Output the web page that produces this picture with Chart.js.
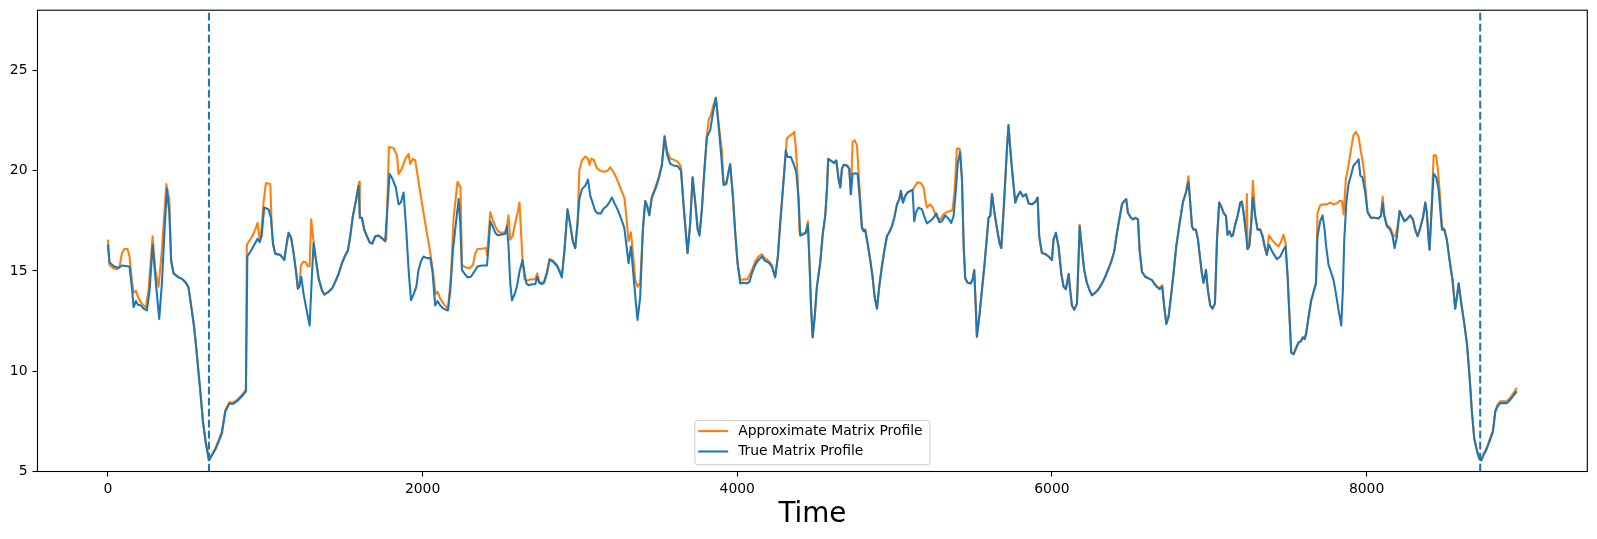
<!DOCTYPE html>
<html>
<head>
<meta charset="utf-8">
<script src="https://cdn.jsdelivr.net/npm/chart.js@4/dist/chart.umd.min.js"></script>
<style>
  body { margin: 0; background: #fff; }
  #wrap { width: 1597px; height: 539px; }
</style>
</head>
<body>
<div id="wrap"><canvas id="mpChart" width="1597" height="539"></canvas></div>
<script>
// values: [time, distance]
const trueProfile = [
  [0,16.31],[10,15.42],[40,15.22],[68,15.15],[89,15.27],[110,15.25],[137,15.22],[152,14.21],[163,13.20],[178,13.50],
  [190,13.32],[210,13.28],[226,13.12],[248,13.03],[265,14.04],[284,16.31],[301,14.71],[326,12.61],[343,14.38],[360,17.06],
  [375,19.08],[390,17.90],[402,15.47],[417,14.88],[449,14.68],[474,14.59],[496,14.41],[512,14.17],[527,13.37],[548,12.19],
  [565,10.85],[587,9.00],[604,7.49],[621,6.48],[642,5.56],[661,5.81],[682,6.09],[703,6.48],[724,6.90],[746,7.99],
  [771,8.38],[798,8.38],[824,8.53],[851,8.75],[877,9.00],[886,15.72],[909,16.01],[930,16.31],[951,16.61],[964,16.43],
  [977,16.73],[993,18.16],[1021,18.07],[1036,17.65],[1049,16.39],[1063,15.85],[1095,15.80],
  [1121,15.55],[1133,16.22],[1148,16.90],[1165,16.64],[1180,15.89],[1197,14.88],[1207,14.12],[1216,14.21],[1229,14.71],
  [1243,13.87],[1265,12.95],[1282,12.28],[1296,14.71],[1307,16.39],[1322,15.55],[1339,14.63],[1360,14.04],[1375,13.82],
  [1402,13.96],[1424,14.12],[1445,14.46],[1466,14.85],[1487,15.38],[1508,15.77],[1525,16.02],[1540,16.73],[1557,17.74],
  [1574,18.41],[1593,19.25],[1601,17.65],[1614,17.65],[1629,17.06],[1646,16.73],[1663,16.43],[1680,16.36],[1699,16.73],
  [1720,16.76],[1741,16.64],[1762,16.48],[1777,18.24],[1790,19.84],[1809,19.58],[1830,19.16],[1847,18.32],[1862,18.41],
  [1879,18.91],[1896,17.06],[1911,15.05],[1926,13.54],[1943,13.84],[1960,14.21],[1974,15.05],[1989,15.47],[2006,15.72],
  [2027,15.64],[2049,15.64],[2063,14.96],[2080,13.28],[2095,13.50],[2112,13.28],[2133,13.12],[2161,13.03],[2176,14.04],
  [2193,16.06],[2212,17.40],[2229,18.58],[2239,17.40],[2250,15.05],
  [2265,14.88],[2286,14.68],[2307,14.71],[2328,14.96],[2349,15.22],[2377,15.27],[2409,15.27],[2419,16.22],[2430,17.48],
  [2445,17.23],[2462,16.90],[2477,16.78],[2498,16.81],[2525,16.85],[2536,17.23],[2546,16.22],[2557,14.38],[2568,13.54],
  [2585,13.84],[2599,14.21],[2616,14.96],[2635,15.55],[2648,14.88],[2659,14.38],[2674,14.29],[2695,14.34],[2716,14.34],
  [2729,14.71],[2741,14.41],[2758,14.34],[2773,14.43],[2790,14.88],[2807,15.55],[2828,15.47],[2854,15.25],[2871,14.96],
  [2885,14.68],[2902,16.06],[2921,18.07],[2938,17.32],[2955,16.48],[2970,16.14],[2985,17.40],[2996,18.58],[3013,19.08],
  [3034,19.25],[3051,19.55],[3066,18.74],[3080,18.41],[3097,17.99],[3114,17.87],[3133,17.87],[3150,18.11],[3171,18.24],
  [3186,18.41],[3203,18.66],[3220,18.37],[3239,18.07],[3260,17.65],[3282,17.15],[3294,16.39],[3309,15.38],[3324,16.22],
  [3341,14.71],[3356,13.37],[3366,12.56],[3383,13.70],
  [3400,17.06],[3415,18.49],[3426,18.24],[3441,17.77],[3457,18.66],[3479,19.08],[3500,19.58],[3521,20.26],[3538,21.68],
  [3553,20.84],[3574,20.34],[3595,20.26],[3621,20.22],[3642,20.00],[3659,18.24],[3684,15.89],[3701,17.40],[3716,19.67],
  [3733,18.41],[3748,17.06],[3760,16.76],[3775,18.07],[3790,19.92],[3807,21.68],[3828,22.02],[3845,22.86],[3864,23.62],
  [3881,22.27],[3896,20.93],[3913,19.28],[3930,19.33],[3945,19.92],[3955,20.29],[3972,18.74],[3987,16.90],[4002,15.38],
  [4019,14.38],[4040,14.41],[4061,14.38],[4078,14.46],[4093,14.88],[4114,15.30],[4135,15.55],[4157,15.72],[4174,15.52],
  [4199,15.42],[4220,15.22],[4241,14.68],[4258,15.72],[4273,17.40],[4290,19.08],[4309,21.01],[4320,20.68],[4341,20.68],
  [4358,20.34],[4375,19.92],[4390,18.58],[4400,16.76],[4417,16.81],[4436,16.90],[4449,17.32],[4460,15.22],[4468,13.37],
  [4479,11.69],[4492,12.70],[4506,14.21],[4527,15.40],
  [4544,16.90],[4559,17.74],[4570,19.08],[4578,20.59],[4602,20.46],[4616,20.39],[4629,20.51],[4644,19.58],[4655,19.16],
  [4665,20.09],[4676,20.29],[4697,20.26],[4712,20.09],[4722,18.83],[4733,19.84],[4750,19.87],[4765,19.84],[4777,18.74],
  [4792,17.15],[4803,16.98],[4813,17.06],[4828,16.39],[4845,15.55],[4860,14.71],[4873,13.70],[4888,13.12],[4902,14.21],
  [4919,15.22],[4936,16.06],[4951,16.73],[4966,16.93],[4983,17.23],[4998,17.65],[5015,18.32],[5030,18.58],[5040,18.99],
  [5053,18.41],[5068,18.74],[5082,18.91],[5099,18.99],[5114,19.03],[5125,17.48],[5135,17.90],[5152,18.16],[5174,18.07],
  [5188,17.74],[5205,17.37],[5226,17.48],[5248,17.65],[5265,17.87],[5284,17.43],[5301,17.48],[5322,17.77],[5343,17.60],
  [5360,17.40],[5375,17.74],[5390,19.08],[5402,20.42],[5417,20.93],[5428,19.58],[5439,16.22],[5449,14.63],[5464,14.41],
  [5485,14.38],[5498,14.63],[5506,15.05],[5515,13.37],[5523,11.72],[5538,12.70],[5555,14.04],[5572,15.38],[5587,16.73],
  [5597,17.65],[5608,17.74],[5619,18.83],[5633,17.99],[5650,17.15],[5667,16.39],[5678,16.14],
  [5697,18.58],[5714,21.10],[5724,22.27],[5735,21.10],[5750,19.75],[5767,18.41],[5782,18.74],[5799,18.95],[5816,18.71],
  [5835,18.83],[5852,18.36],[5873,18.32],[5894,18.44],[5909,18.66],[5919,16.73],[5936,15.89],[5958,15.84],[5979,15.72],
  [6000,15.55],[6010,16.56],[6025,16.90],[6042,16.22],[6059,14.88],[6074,14.21],[6089,14.09],[6106,14.85],[6116,14.04],
  [6127,13.28],[6142,13.07],[6159,13.37],[6169,15.55],[6176,17.23],[6191,16.06],[6205,15.05],[6222,14.41],[6239,14.04],
  [6254,13.79],[6275,13.91],[6296,14.09],[6318,14.38],[6339,14.71],[6360,15.13],[6377,15.47],[6396,15.97],[6413,16.90],
  [6430,17.65],[6445,18.32],[6460,18.49],[6472,18.58],[6483,17.90],[6502,17.65],[6515,17.57],[6530,17.65],[6547,17.57],
  [6557,16.06],[6572,14.96],[6593,14.71],[6614,14.63],[6636,14.54],[6650,14.38],[6667,14.21],[6684,14.09],[6701,14.21],
  [6714,13.20],[6727,12.36],[6741,12.70],[6756,13.70],[6773,14.88],[6790,16.22],[6809,17.23],
  [6832,18.41],[6852,18.91],[6868,19.42],[6879,18.41],[6890,17.23],[6900,17.06],[6915,17.06],[6928,16.56],[6943,15.55],
  [6953,14.88],[6964,14.41],[6979,15.05],[6991,14.04],[7006,13.28],[7021,13.12],[7036,13.37],[7049,16.56],[7063,18.41],
  [7076,18.21],[7091,17.90],[7106,17.74],[7116,16.81],[7129,16.98],[7140,16.73],[7150,16.76],[7165,17.32],[7180,17.74],
  [7197,18.41],[7207,18.46],[7218,17.90],[7233,16.90],[7243,16.09],[7254,16.22],[7267,17.40],[7277,18.66],[7292,17.74],
  [7307,17.06],[7324,17.06],[7339,16.73],[7352,16.22],[7366,15.80],[7379,16.31],[7394,16.06],[7409,15.85],[7430,15.59],
  [7451,15.72],[7472,16.06],[7485,16.22],[7498,14.71],[7510,12.70],[7521,10.93],[7536,10.85],[7553,11.18],[7568,11.44],
  [7582,11.49],[7595,11.69],[7606,11.60],[7616,11.89],[7631,12.70],[7648,13.54],[7663,13.96],[7678,14.38],[7688,16.73],
  [7705,17.48],[7720,17.77],[7733,17.06],[7743,16.22],[7758,15.30],[7773,14.96],[7790,14.54],[7805,13.87],[7822,13.03],
  [7839,12.28],[7849,14.04],[7858,16.56],[7871,18.41],[7885,19.33],[7900,19.75],[7917,20.26],[7932,20.39],[7949,20.56],
  [7960,19.75],[7974,19.67],
  [7991,18.91],[8006,17.94],[8027,17.65],[8049,17.65],[8076,17.62],[8091,17.74],[8102,18.41],[8112,17.74],[8129,17.23],
  [8150,17.06],[8165,16.73],[8178,16.14],[8193,16.73],[8210,17.99],[8224,17.74],[8241,17.48],[8256,17.57],[8277,17.77],
  [8294,17.57],[8309,17.06],[8324,16.73],[8341,17.15],[8358,17.65],[8373,18.41],[8383,17.90],[8394,16.56],[8400,16.06],
  [8411,17.74],[8426,19.84],[8443,19.67],[8457,19.08],[8468,18.07],[8479,17.06],[8494,17.06],[8510,16.56],[8527,15.55],
  [8546,14.54],[8563,13.12],[8574,13.70],[8585,14.38],[8602,13.37],[8621,12.36],[8638,11.35],[8655,9.67],[8669,7.99],
  [8684,6.65],[8701,6.06],[8716,5.64],[8729,5.56],[8744,5.84],[8760,6.06],[8780,6.48],[8803,6.98],[8818,7.99],
  [8832,8.24],[8849,8.41],[8871,8.41],[8892,8.41],[8913,8.58],[8934,8.80],[8955,9.00]
];

const approxProfile = [
  [0,16.56],[10,15.30],[36,15.13],[57,15.08],[74,15.22],[89,15.89],[104,16.09],[125,16.09],[137,15.72],[152,14.54],
  [163,13.91],[178,14.01],[195,13.62],[216,13.37],[241,13.17],[258,14.04],[284,16.73],[301,15.05],[322,14.21],[343,16.06],
  [371,19.33],[390,18.58],[402,15.55],[417,14.88],[449,14.68],[474,14.59],[496,14.41],[512,14.17],[527,13.37],[548,12.19],
  [565,10.85],[587,9.00],[604,7.49],[621,6.48],[642,5.56],[661,5.85],[682,6.15],[703,6.55],[724,6.98],[746,8.05],
  [771,8.45],[798,8.45],[824,8.60],[851,8.82],[877,9.08],[883,16.31],[915,16.69],[936,17.06],[951,17.40],[964,16.56],
  [974,16.90],[989,18.41],[1004,19.38],[1032,19.33],[1040,17.40],[1049,16.31],[1063,15.89],[1095,15.80],
  [1121,15.55],[1133,16.22],[1148,16.90],[1165,16.64],[1180,15.89],[1197,14.88],[1207,14.12],[1216,14.21],[1227,15.30],
  [1243,15.47],[1258,15.42],[1271,15.22],[1282,15.25],[1292,17.57],[1303,16.73],[1322,15.55],[1339,14.63],[1360,14.04],
  [1375,13.82],[1402,13.96],[1424,14.12],[1445,14.46],[1466,14.85],[1487,15.38],[1508,15.77],[1525,16.02],[1540,16.73],
  [1557,17.74],[1574,18.41],[1597,19.45],[1601,17.65],[1614,17.65],[1629,17.06],[1646,16.73],[1663,16.43],[1680,16.36],
  [1699,16.73],[1720,16.76],[1741,16.64],[1762,16.48],[1769,16.56],[1786,21.18],[1815,21.13],[1837,20.76],[1847,19.84],
  [1868,20.09],[1890,20.59],[1911,20.84],[1921,20.34],[1938,20.59],[1953,20.51],[1968,19.75],[1985,18.91],[2002,18.07],
  [2027,16.90],[2049,15.89],[2070,14.71],[2082,13.84],[2095,13.96],[2112,13.62],[2133,13.37],[2161,13.12],[2180,14.71],
  [2197,17.65],[2222,19.45],[2241,19.16],[2250,15.30],
  [2271,15.18],[2299,15.13],[2320,15.30],[2335,15.89],[2349,16.09],[2377,16.11],[2404,16.14],[2409,15.80],[2419,16.73],
  [2430,17.94],[2445,17.57],[2462,17.23],[2479,16.98],[2498,16.90],[2525,16.93],[2536,17.23],[2546,17.77],[2557,16.56],
  [2572,16.73],[2589,17.40],[2604,17.90],[2616,18.41],[2625,17.06],[2635,15.55],[2648,14.58],[2663,14.51],[2684,14.58],
  [2716,14.59],[2729,14.88],[2741,14.48],[2758,14.40],[2773,14.50],[2790,14.95],[2807,15.60],[2828,15.52],[2854,15.30],
  [2871,15.00],[2885,14.70],[2902,16.06],[2921,18.07],[2938,17.32],[2955,16.48],[2970,16.14],[2985,17.40],[2996,20.00],
  [3013,20.51],[3034,20.71],[3051,20.59],[3061,20.29],[3072,20.59],[3087,20.54],[3108,20.12],[3129,20.00],[3154,19.95],
  [3176,20.00],[3193,20.17],[3214,19.92],[3235,19.58],[3256,19.16],[3282,18.66],[3294,17.82],[3309,16.48],[3324,16.93],
  [3337,15.89],[3352,14.54],[3366,14.21],[3383,14.40],
  [3400,17.06],[3415,18.49],[3426,18.30],[3441,17.85],[3457,18.70],[3479,19.15],[3500,19.65],[3521,20.35],[3538,21.75],
  [3553,21.00],[3574,20.60],[3595,20.55],[3621,20.45],[3642,20.20],[3659,18.24],[3684,15.89],[3701,17.40],[3716,19.67],
  [3733,18.41],[3748,17.20],[3760,16.85],[3775,18.07],[3790,19.92],[3807,21.77],[3818,22.52],[3832,22.78],[3849,23.28],
  [3864,23.65],[3885,22.10],[3902,21.01],[3913,19.42],[3930,19.40],[3945,20.00],[3955,20.35],[3972,18.74],[3987,16.90],
  [4002,15.38],[4019,14.54],[4040,14.58],[4065,14.58],[4093,15.05],[4114,15.47],[4135,15.72],[4157,15.84],[4174,15.64],
  [4199,15.50],[4220,15.30],[4241,14.71],[4258,15.72],[4273,17.40],[4290,19.08],[4315,21.60],[4337,21.77],[4354,21.85],
  [4362,21.94],[4373,21.10],[4383,19.75],[4396,16.90],[4417,16.85],[4436,16.95],[4449,17.48],[4460,15.22],[4468,13.37],
  [4479,11.69],[4492,12.70],[4506,14.21],[4527,15.40],
  [4544,16.90],[4559,17.74],[4570,19.08],[4578,20.59],[4602,20.46],[4616,20.39],[4629,20.51],[4644,19.58],[4655,19.16],
  [4665,20.09],[4676,20.29],[4697,20.26],[4712,20.09],[4722,18.83],[4733,21.43],[4746,21.52],[4761,21.26],[4771,19.92],
  [4782,18.58],[4792,17.23],[4803,17.00],[4813,17.06],[4828,16.39],[4845,15.55],[4860,14.71],[4873,13.70],[4888,13.12],
  [4902,14.21],[4919,15.22],[4936,16.06],[4951,16.73],[4966,16.93],[4983,17.23],[4998,17.65],[5015,18.32],[5030,18.58],
  [5040,18.99],[5053,18.41],[5068,18.74],[5082,18.91],[5099,18.99],[5114,19.03],[5131,19.25],[5146,19.42],[5167,19.38],
  [5184,19.16],[5195,18.58],[5205,18.16],[5226,18.32],[5243,18.16],[5258,17.82],[5273,17.65],[5290,17.57],[5311,17.82],
  [5332,17.94],[5354,17.99],[5368,18.04],[5380,18.90],[5396,21.10],[5413,21.10],[5428,19.58],[5439,16.22],[5449,14.63],
  [5464,14.41],[5485,14.38],[5498,14.63],[5506,15.05],[5515,13.37],[5523,11.72],[5538,12.70],[5555,14.04],[5572,15.38],
  [5587,16.73],[5597,17.65],[5608,17.74],[5619,18.83],[5633,17.99],[5650,17.15],[5667,16.39],[5678,16.14],
  [5697,18.58],[5714,21.10],[5724,22.27],[5735,21.10],[5750,19.75],[5767,18.41],[5782,18.74],[5799,18.95],[5816,18.71],
  [5835,18.83],[5852,18.36],[5873,18.32],[5894,18.44],[5909,18.66],[5919,16.73],[5936,15.89],[5958,15.84],[5979,15.72],
  [6000,15.55],[6010,16.56],[6025,16.90],[6042,16.22],[6059,14.88],[6074,14.21],[6089,14.09],[6106,14.85],[6116,14.04],
  [6127,13.28],[6142,13.07],[6159,13.37],[6169,15.55],[6176,17.30],[6191,16.06],[6205,15.05],[6222,14.41],[6239,14.04],
  [6254,13.79],[6275,13.91],[6296,14.09],[6318,14.38],[6339,14.71],[6360,15.13],[6377,15.47],[6396,15.97],[6413,16.90],
  [6430,17.65],[6445,18.32],[6460,18.49],[6472,18.58],[6483,17.90],[6502,17.65],[6515,17.57],[6530,17.65],[6547,17.57],
  [6557,16.06],[6572,14.96],[6593,14.71],[6614,14.63],[6636,14.54],[6650,14.38],[6667,14.21],[6684,14.15],[6701,14.29],
  [6714,13.20],[6727,12.36],[6741,12.70],[6756,13.70],[6773,14.88],[6790,16.22],[6809,17.23],
  [6832,18.41],[6852,18.95],[6868,19.72],[6879,18.41],[6890,17.23],[6900,17.06],[6915,17.06],[6928,16.56],[6943,15.55],
  [6953,14.88],[6964,14.41],[6979,15.05],[6991,14.04],[7006,13.28],[7021,13.12],[7036,13.37],[7049,16.56],[7063,18.41],
  [7076,18.21],[7091,17.90],[7106,17.74],[7116,16.81],[7129,16.98],[7140,16.73],[7150,16.76],[7165,17.32],[7180,17.74],
  [7197,18.41],[7207,18.46],[7218,17.90],[7233,16.90],[7239,18.83],[7243,16.09],[7254,16.22],[7267,17.40],[7277,19.50],
  [7292,17.74],[7307,17.06],[7324,17.06],[7339,16.73],[7352,16.22],[7366,15.80],[7379,16.78],[7398,16.56],[7419,16.36],
  [7440,16.22],[7457,16.48],[7472,16.81],[7485,16.39],[7498,14.71],[7510,12.70],[7521,10.93],[7536,10.85],[7553,11.18],
  [7568,11.44],[7582,11.49],[7595,11.69],[7606,11.60],[7616,11.89],[7631,12.70],[7648,13.54],[7663,13.96],[7678,14.38],
  [7688,17.90],[7705,18.27],[7726,18.32],[7748,18.32],[7769,18.41],[7790,18.32],[7811,18.37],[7828,18.49],[7843,18.49],
  [7854,17.82],[7868,19.58],[7885,20.26],[7900,21.01],[7917,21.77],[7932,21.94],[7949,21.68],[7964,20.93],[7976,20.42],
  [7987,19.70],
  [8006,17.94],[8027,17.65],[8049,17.65],[8076,17.62],[8091,17.74],[8102,18.71],[8112,17.80],[8129,17.30],[8150,17.15],
  [8171,16.73],[8182,16.73],[8193,17.06],[8210,17.99],[8224,17.74],[8241,17.48],[8256,17.57],[8277,17.77],[8294,17.57],
  [8309,17.06],[8324,16.73],[8341,17.15],[8358,17.65],[8373,18.41],[8383,17.90],[8394,16.56],[8400,16.06],[8411,17.74],
  [8426,20.76],[8441,20.76],[8453,20.09],[8468,18.58],[8479,17.23],[8494,17.06],[8510,16.56],[8527,15.55],[8546,14.54],
  [8563,13.12],[8574,13.70],[8585,14.38],[8602,13.37],[8621,12.36],[8638,11.35],[8655,9.67],[8669,7.99],[8684,6.65],
  [8701,6.06],[8716,5.64],[8729,5.56],[8744,5.90],[8760,6.12],[8780,6.55],[8803,7.05],[8818,8.05],[8832,8.32],
  [8849,8.50],[8871,8.50],[8892,8.50],[8913,8.68],[8934,8.92],[8955,9.17]
];

const motifTimes = [642, 8722];
const xTicks = [0, 2000, 4000, 6000, 8000];
const yTicks = [5, 10, 15, 20, 25];
const seriesLabels = ['Approximate Matrix Profile', 'True Matrix Profile'];
const seriesColors = ['#ff7f0e', '#1f77b4'];

const xMin = -447.7, xMax = 9402.7;
const yMin = 5, yMax = 28;
const FONT = 'DejaVu Sans';

function toPoints(list) {
  return list.map(p => ({x: p[0], y: p[1]}));
}

const datasets = [
  {
    label: seriesLabels[0],
    data: toPoints(approxProfile),
    borderColor: seriesColors[0],
    order: 2
  },
  {
    label: seriesLabels[1],
    data: toPoints(trueProfile),
    borderColor: seriesColors[1],
    order: 1
  }
];
motifTimes.forEach(t => {
  datasets.push({
    label: 'motif',
    data: [{x: t, y: yMin}, {x: t, y: yMax}],
    borderColor: '#1f77b4',
    borderDash: [7.7, 3.3],
    order: 0
  });
});
datasets.forEach(d => {
  d.borderWidth = 2.08;
  d.pointRadius = 0;
  d.tension = 0;
  d.fill = false;
  d.borderJoinStyle = 'round';
});

// frame round the plot and a matplotlib-like legend at lower centre
const framePlugin = {
  id: 'frame',
  afterDraw(chart) {
    const {ctx, chartArea: a} = chart;
    ctx.save();
    ctx.strokeStyle = '#000';
    ctx.lineWidth = 1.1;
    ctx.strokeRect(a.left, a.top, a.right - a.left, a.bottom - a.top);

    ctx.font = '13.9px "' + FONT + '"';
    const textW = Math.max(...seriesLabels.map(s => ctx.measureText(s).width));
    const w = 3.3 + 30 + 10 + textW + 7.3;
    const h = 44.3;
    const cx = (a.left + a.right) / 2;
    const x0 = cx - w / 2;
    const y0 = a.bottom - 6.7 - h;
    const r = 2.8;
    ctx.beginPath();
    ctx.moveTo(x0 + r, y0);
    ctx.arcTo(x0 + w, y0, x0 + w, y0 + h, r);
    ctx.arcTo(x0 + w, y0 + h, x0, y0 + h, r);
    ctx.arcTo(x0, y0 + h, x0, y0, r);
    ctx.arcTo(x0, y0, x0 + w, y0, r);
    ctx.closePath();
    ctx.fillStyle = 'rgba(255,255,255,0.8)';
    ctx.fill();
    ctx.strokeStyle = '#cccccc';
    ctx.lineWidth = 1;
    ctx.stroke();

    seriesLabels.forEach((lab, i) => {
      const yy = y0 + 10.6 + i * 20.4;
      ctx.beginPath();
      ctx.strokeStyle = seriesColors[i];
      ctx.lineWidth = 2.08;
      ctx.moveTo(x0 + 3.3, yy);
      ctx.lineTo(x0 + 33.3, yy);
      ctx.stroke();
      ctx.fillStyle = '#000';
      ctx.textBaseline = 'middle';
      ctx.textAlign = 'left';
      ctx.fillText(lab, x0 + 43.3, yy);
    });
    ctx.restore();
  }
};

new Chart(document.getElementById('mpChart'), {
  type: 'line',
  data: {datasets: datasets},
  options: {
    responsive: false,
    animation: false,
    devicePixelRatio: 1,
    layout: {padding: {left: 0, right: 9.7, top: 10.2, bottom: 0}},
    plugins: {
      legend: {display: false},
      tooltip: {enabled: false}
    },
    scales: {
      x: {
        type: 'linear',
        min: xMin,
        max: xMax,
        afterFit: s => { s.height = 67.5; },
        afterBuildTicks: s => { s.ticks = xTicks.map(v => ({value: v})); },
        grid: {drawOnChartArea: false, drawTicks: true, tickLength: 5, color: '#000', tickWidth: 1.1},
        border: {display: false},
        ticks: {
          autoSkip: false, maxRotation: 0, padding: 4.5, color: '#000',
          font: {family: FONT, size: 13.9},
          callback: v => String(v)
        },
        title: {
          display: true, text: 'Time', color: '#000',
          font: {family: FONT, size: 27.8},
          padding: {top: 0, bottom: 8}
        }
      },
      y: {
        type: 'linear',
        min: yMin,
        max: yMax,
        afterFit: s => { s.width = 37.5; s.paddingTop = 0; s.paddingBottom = 0; },
        afterBuildTicks: s => { s.ticks = yTicks.map(v => ({value: v})); },
        grid: {drawOnChartArea: false, drawTicks: true, tickLength: 5, color: '#000', tickWidth: 1.1},
        border: {display: false},
        ticks: {
          autoSkip: false, padding: 5, color: '#000',
          font: {family: FONT, size: 13.9},
          callback: v => String(v)
        }
      }
    }
  },
  plugins: [framePlugin]
});
</script>
</body>
</html>
